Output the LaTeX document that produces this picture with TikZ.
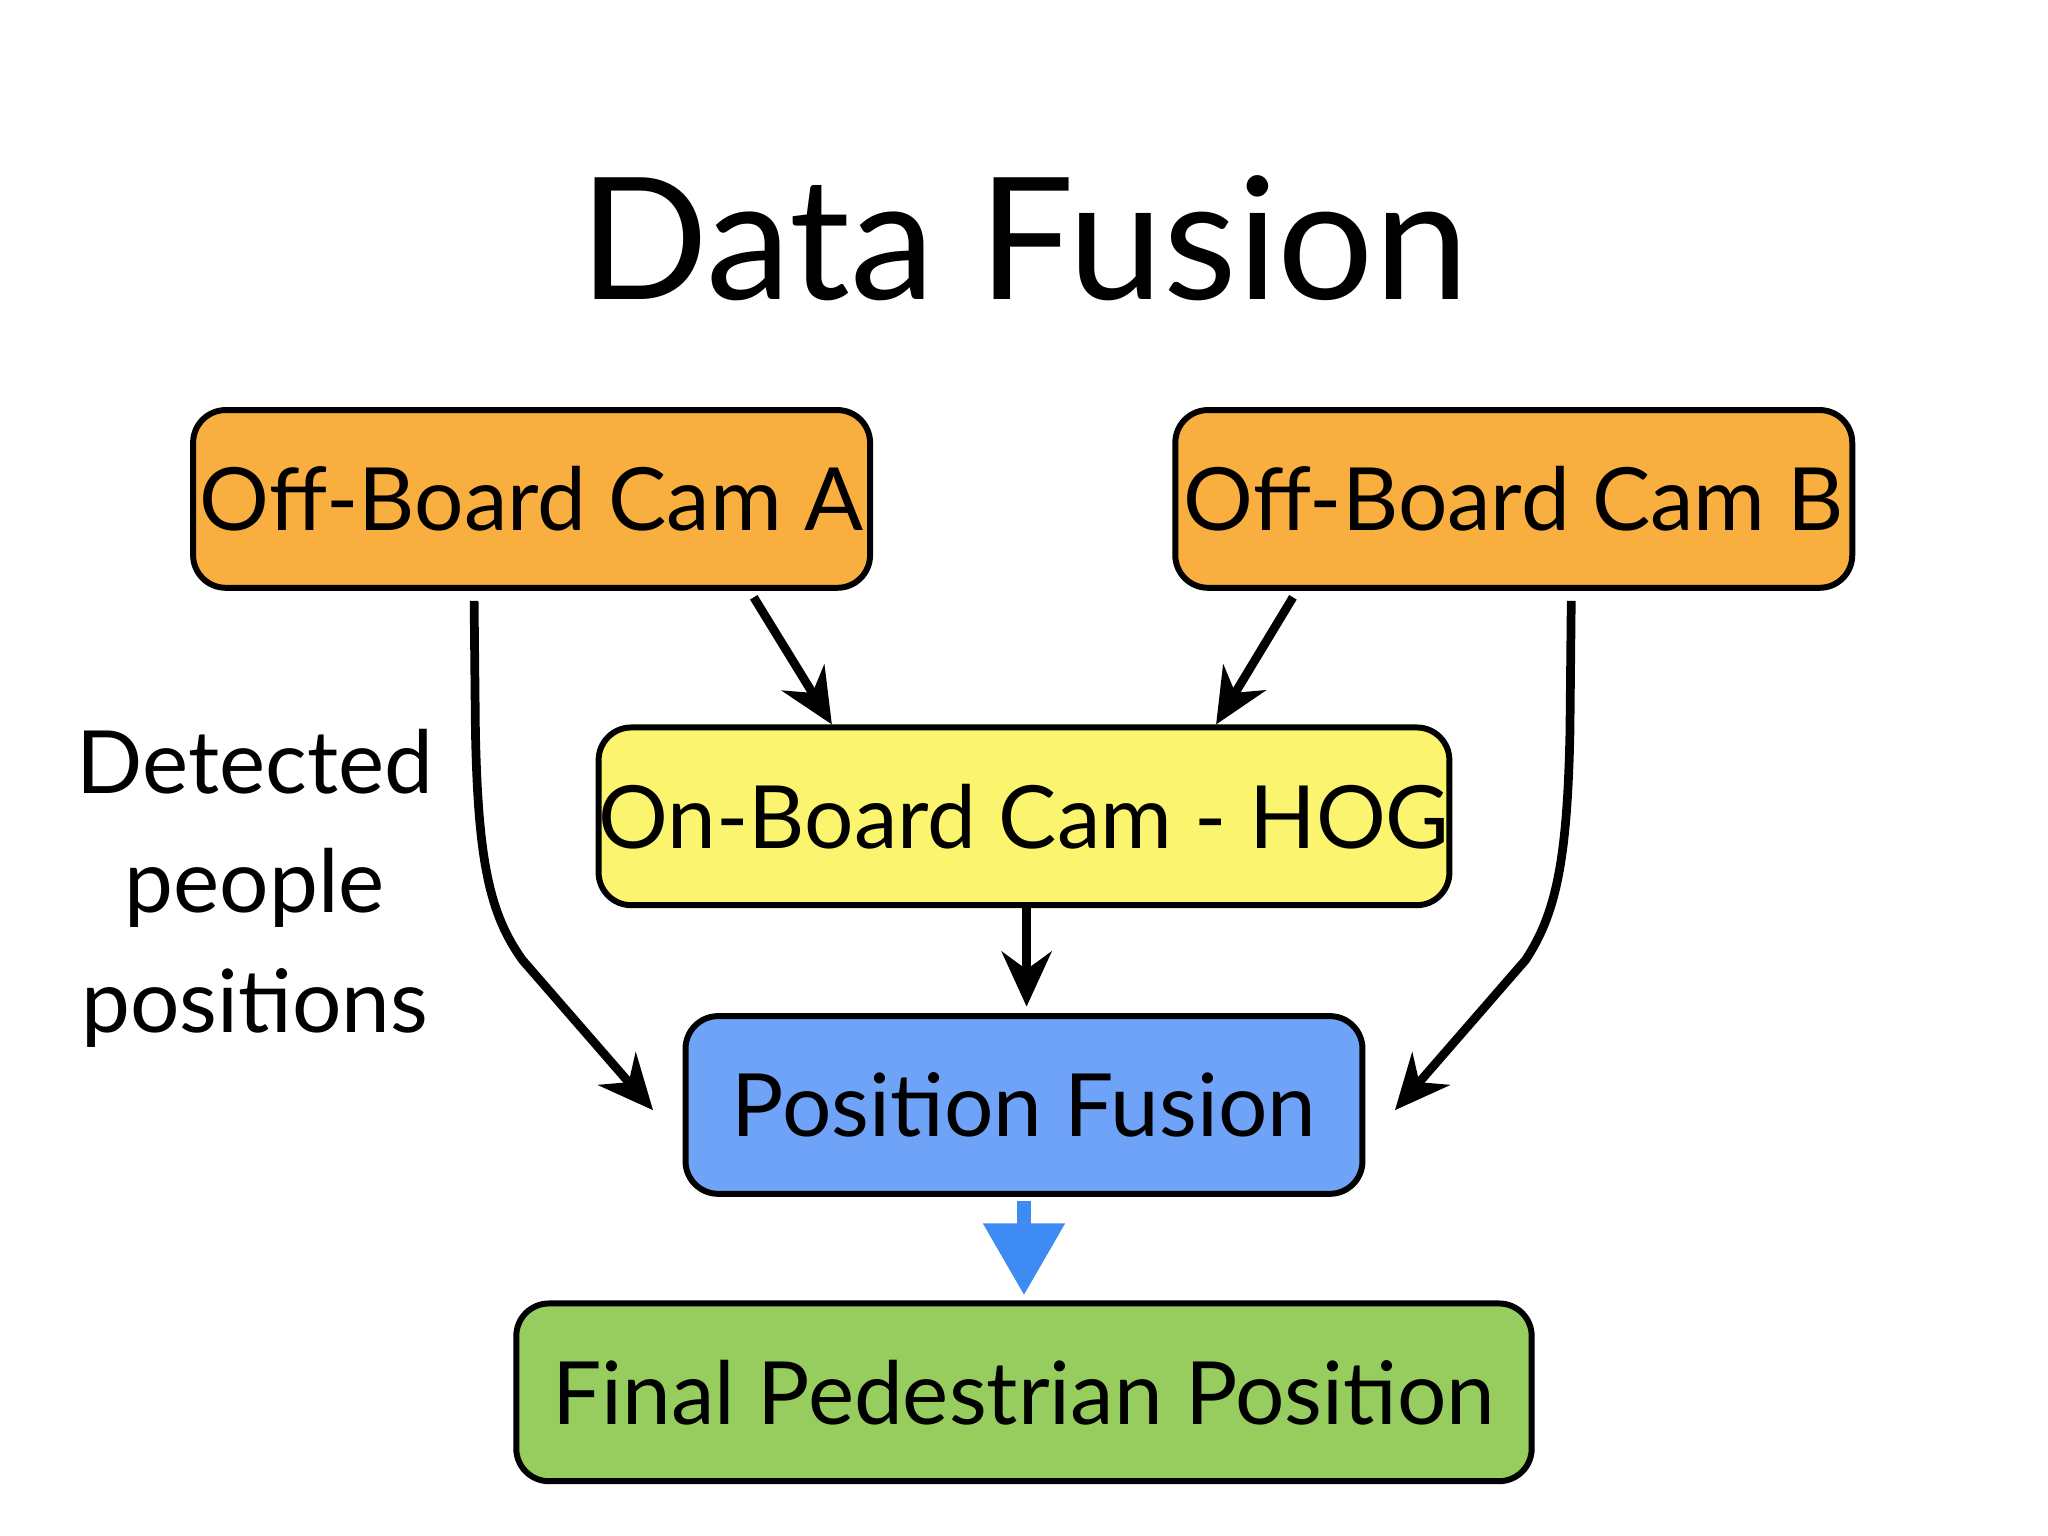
\documentclass[tikz,border=0pt]{standalone}
\usepackage{fontspec}
\setmainfont{Lato}
\usetikzlibrary{arrows.meta}
\definecolor{orng}{HTML}{F9AE40}
\definecolor{yell}{HTML}{FBF46E}
\definecolor{blu}{HTML}{6FA3F7}
\definecolor{grn}{HTML}{97CD5E}
\definecolor{barr}{HTML}{3F8BF4}
\begin{document}
\begin{tikzpicture}[x=0.01cm,y=-0.01cm,
  box/.style={draw=black,line width=1.3pt,rounded corners=0.25cm,inner sep=0pt,font=\fontsize{19}{22}\selectfont},
  arr/.style={line width=1.9pt,-{Stealth[length=0.42cm,width=0.38cm]}}]
\useasboundingbox (0,0) rectangle (1568,1176);
\node[font=\fontsize{37}{40}\selectfont] (t) at (784,182) {Data Fusion};
\node[box,fill=orng,minimum width=5.18cm,minimum height=1.36cm] (A) at (407,382) {Off-Board Cam A};
\node[box,fill=orng,minimum width=5.18cm,minimum height=1.36cm] (B) at (1159,382) {Off-Board Cam B};
\node[box,fill=yell,minimum width=6.34cm,minimum height=1.36cm] (H) at (784,625) {On-Board Cam - HOG};
\node[box,fill=blu,minimum width=5.18cm,minimum height=1.36cm] (P) at (784,846) {Position Fusion};
\node[box,fill=grn,minimum width=7.77cm,minimum height=1.36cm] (F) at (784,1066) {Final Pedestrian Position};
\node[align=center,font=\fontsize{19}{26}\selectfont] (lab) at (195,680) {Detected\\people\\positions};
\coordinate (a1) at (363,460);
\coordinate (a2) at (500,850);
\coordinate (b1) at (1203,460);
\coordinate (b2) at (1068,850);
\draw[arr] (a1) -- (364,560) .. controls (366,660) and (375,700) .. (400,735) -- (a2);
\draw[arr] (b1) -- (1202,560) .. controls (1200,660) and (1191,700) .. (1168,735) -- (b2);
\draw[arr] ([xshift=1.7cm,yshift=-0.05cm]A.south) -- ([xshift=-1.47cm]H.north);
\draw[arr] ([xshift=-1.69cm,yshift=-0.05cm]B.south) -- ([xshift=1.47cm]H.north);
\draw[arr] ([xshift=0.02cm]H.south) -- ([xshift=0.02cm,yshift=0.05cm]P.north);
\draw[line width=3pt,barr,-{Triangle[length=0.55cm,width=0.6cm]}] ([yshift=-0.03cm]P.south) -- ([yshift=0.04cm]F.north);
\end{tikzpicture}
\end{document}
